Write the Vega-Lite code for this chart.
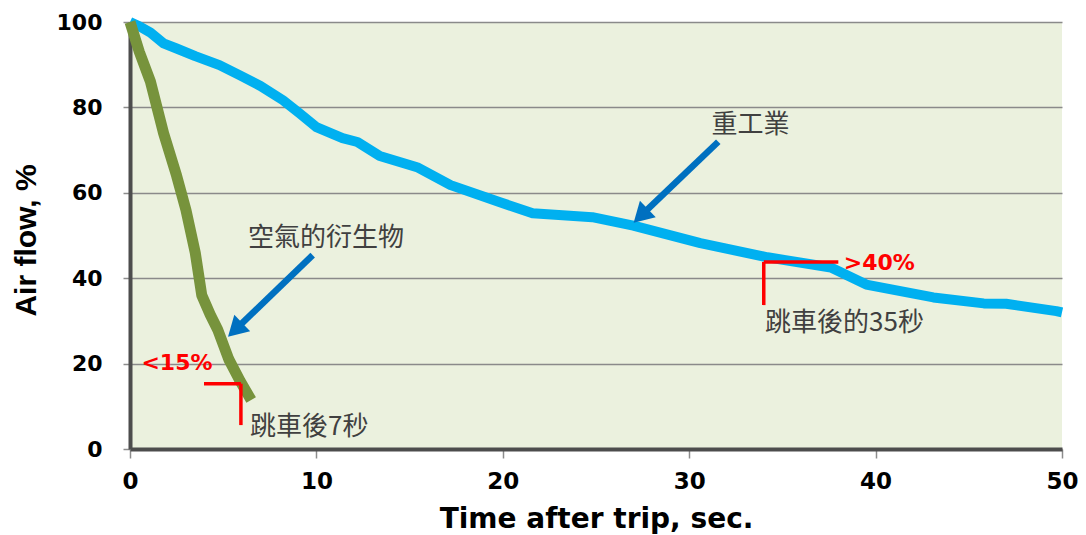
{
  "$schema": "https://vega.github.io/schema/vega-lite/v6.json",
  "width": 932,
  "height": 427,
  "autosize": {"type": "none"},
  "padding": {"left": 130, "top": 22, "right": 24, "bottom": 86},
  "background": "#ffffff",
  "config": {
    "view": {"fill": "#EBF1DE", "stroke": null},
    "axis": {
      "domainColor": "#4d4d4d",
      "domainWidth": 4,
      "tickColor": "#8c8c8c",
      "tickWidth": 1.5,
      "labelColor": "#000000",
      "titleColor": "#000000"
    }
  },
  "datasets": {
    "heavy": [
      {"t": 0, "flow": 100}, {"t": 0.5, "flow": 99}, {"t": 1.1, "flow": 97.5},
      {"t": 1.8, "flow": 95}, {"t": 2.5, "flow": 93.8}, {"t": 3.5, "flow": 92},
      {"t": 4.8, "flow": 89.9}, {"t": 5.9, "flow": 87.5}, {"t": 7, "flow": 85},
      {"t": 8.2, "flow": 81.7}, {"t": 9.1, "flow": 78.6}, {"t": 10, "flow": 75.4},
      {"t": 11.4, "flow": 72.8}, {"t": 12.2, "flow": 71.9}, {"t": 13.4, "flow": 68.6},
      {"t": 15.4, "flow": 66}, {"t": 17.2, "flow": 61.8}, {"t": 19.85, "flow": 57.8},
      {"t": 21.6, "flow": 55.2}, {"t": 24.8, "flow": 54.3}, {"t": 27, "flow": 52.3},
      {"t": 30.6, "flow": 48.2}, {"t": 34.2, "flow": 44.9}, {"t": 37.6, "flow": 42.5},
      {"t": 39.5, "flow": 38.5}, {"t": 43.1, "flow": 35.5}, {"t": 45.8, "flow": 34.1},
      {"t": 47, "flow": 34}, {"t": 49.7, "flow": 32.3}, {"t": 50, "flow": 32}
    ],
    "aero": [
      {"t": 0, "flow": 100}, {"t": 0.5, "flow": 93}, {"t": 1.1, "flow": 86},
      {"t": 1.8, "flow": 74}, {"t": 2.5, "flow": 64}, {"t": 3.0, "flow": 56},
      {"t": 3.5, "flow": 46}, {"t": 3.85, "flow": 36}, {"t": 4.3, "flow": 31.5},
      {"t": 4.7, "flow": 28}, {"t": 5.3, "flow": 21}, {"t": 5.9, "flow": 16},
      {"t": 6.5, "flow": 11.5}
    ],
    "arrows": [
      {"t": 31.56, "flow": 71.95, "t2": 27.4, "flow2": 54.6},
      {"t": 9.8, "flow": 45.4, "t2": 5.64, "flow2": 27.9}
    ],
    "brackets": [
      {"t": 3.97, "flow": 15.3, "t2": 5.95, "flow2": 15.3},
      {"t": 5.95, "flow": 15.3, "t2": 5.95, "flow2": 5.6},
      {"t": 34.0, "flow": 43.8, "t2": 38.0, "flow2": 43.8},
      {"t": 34.0, "flow": 43.8, "t2": 34.0, "flow2": 33.7}
    ],
    "thresholds": [
      {"t": 2.52, "flow": 20.1, "label": "<15%"},
      {"t": 40.2, "flow": 43.5, "label": ">40%"}
    ],
    "notes": [
      {"t": 6.33, "flow": 49.3, "label": "空氣的衍生物"},
      {"t": 6.44, "flow": 5.1, "label": "跳車後7秒"},
      {"t": 31.2, "flow": 75.8, "label": "重工業"},
      {"t": 34.07, "flow": 29.5, "label": "跳車後的35秒"}
    ]
  },
  "encoding": {
    "x": {
      "field": "t",
      "type": "quantitative",
      "scale": {"domain": [0, 50], "nice": false},
      "axis": {
        "title": "Time after trip, sec.",
        "values": [0, 10, 20, 30, 40, 50],
        "grid": false,
        "tickSize": 9,
        "labelPadding": 12,
        "labelFlush": false,
        "labelFont": "DejaVu Sans",
        "labelFontWeight": "bold",
        "labelFontSize": 23,
        "titleFont": "DejaVu Sans",
        "titleFontWeight": "bold",
        "titleFontSize": 28,
        "titleBaseline": "alphabetic",
        "titleY": 78
      }
    },
    "y": {
      "field": "flow",
      "type": "quantitative",
      "scale": {"domain": [0, 100], "nice": false},
      "axis": {
        "title": "Air flow, %",
        "values": [0, 20, 40, 60, 80, 100],
        "grid": true,
        "gridColor": "#8a8a8a",
        "gridWidth": 1.5,
        "tickSize": 7,
        "labelPadding": 21,
        "labelFont": "DejaVu Sans",
        "labelFontWeight": "bold",
        "labelFontSize": 22,
        "titleFont": "Liberation Sans",
        "titleFontWeight": "bold",
        "titleFontSize": 30,
        "titleAngle": 270,
        "titleAlign": "center",
        "titleBaseline": "middle",
        "titleX": -104,
        "titleY": 218
      }
    }
  },
  "layer": [
    {
      "data": {"name": "heavy"},
      "mark": {"type": "line", "color": "#00B0F0", "strokeWidth": 10, "strokeJoin": "round"}
    },
    {
      "data": {"name": "aero"},
      "mark": {"type": "line", "color": "#77933C", "strokeWidth": 11, "strokeJoin": "round"}
    },
    {
      "mark": {"type": "rule", "color": "#000000", "strokeWidth": 5},
      "encoding": {"x": null, "y": {"datum": 100, "type": "quantitative"}}
    },
    {
      "mark": {"type": "rule", "color": "#000000", "strokeWidth": 5},
      "encoding": {"y": null, "x": {"datum": 50, "type": "quantitative"}}
    },
    {
      "data": {"name": "brackets"},
      "mark": {"type": "rule", "color": "#FF0000", "strokeWidth": 3.5},
      "encoding": {"x2": {"field": "t2"}, "y2": {"field": "flow2"}}
    },
    {
      "data": {"name": "arrows"},
      "mark": {"type": "rule", "color": "#0070C0", "strokeWidth": 6.5},
      "encoding": {"x2": {"field": "t2"}, "y2": {"field": "flow2"}}
    },
    {
      "data": {"name": "arrows"},
      "mark": {"type": "point", "shape": "triangle-up", "angle": 226, "size": 520, "filled": true, "color": "#0070C0", "opacity": 1},
      "encoding": {"x": {"field": "t2", "type": "quantitative"}, "y": {"field": "flow2", "type": "quantitative"}}
    },
    {
      "data": {"name": "thresholds"},
      "mark": {"type": "text", "color": "#FF0000", "font": "DejaVu Sans", "fontWeight": "bold", "fontSize": 22, "align": "center", "baseline": "middle"},
      "encoding": {"text": {"field": "label"}}
    },
    {
      "data": {"name": "notes"},
      "mark": {"type": "text", "color": "#404040", "font": "Noto Sans CJK TC", "fontSize": 26, "align": "left", "baseline": "middle"},
      "encoding": {"text": {"field": "label"}}
    }
  ]
}
